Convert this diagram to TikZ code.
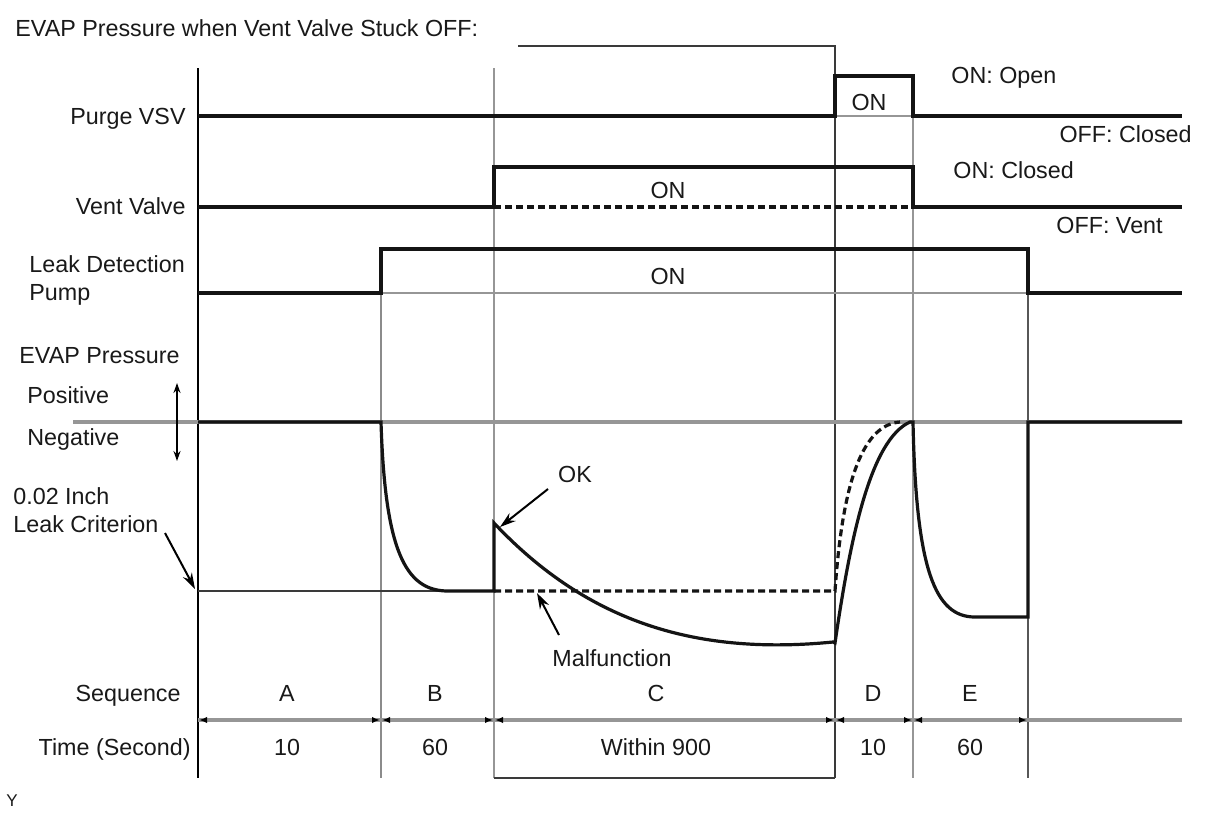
\documentclass[tikz,border=0pt]{standalone}
\usepackage{fontspec}
\setmainfont{Liberation Sans}
\usetikzlibrary{arrows.meta}
\definecolor{gline}{HTML}{969696}
\definecolor{dline}{HTML}{3A3A3A}
\begin{document}
\begin{tikzpicture}[x=0.5pt,y=-0.5pt,
  every node/.style={inner sep=0pt,font=\fontsize{11.65}{14}\selectfont,text=black!90},
  sig/.style={line width=1.6pt,black!92,line join=miter},
  sigdash/.style={line width=1.6pt,black!92,dash pattern=on 3.5pt off 2pt},
  gridg/.style={line width=1.1pt,gline},
  gridd/.style={line width=1.1pt,dline},
  pointer/.style={line width=1pt,black,-{Stealth[length=8pt,width=5pt]}},
  seg/.style={line width=1.8pt,gline,{Latex[length=4pt,width=3.2pt,color=black]}-{Latex[length=4pt,width=3.2pt,color=black]}}]
\useasboundingbox (0,0) rectangle (1208,814);
\fill[white] (0,0) rectangle (1208,814);

% ---- grid / frame lines
\draw[line width=1.2pt,black] (198,68) -- (198,778);
\draw[gridg,gline!110] (381,249) -- (381,778);
\draw[gridg] (494,68) -- (494,778);
\draw[gridd] (518,46) -- (835,46) -- (835,778);
\draw[gridd] (494,778) -- (835,778);
\draw[gridg] (913,76) -- (913,778);
\draw[gridd,dline!85] (1028,249) -- (1028,778);

% baselines
\draw[gridg] (835,116) -- (913,116);
\draw[gridg] (381,293) -- (1028,293);
\draw[line width=1.8pt,gline] (73,422) -- (1182,422);
\draw[line width=1.8pt,gline] (198,720) -- (1182,720);
\draw[line width=0.9pt,dline] (198,591) -- (494,591);

% time segments
\draw[seg] (199,720) -- (380,720);
\draw[seg] (382,720) -- (493,720);
\draw[seg] (495,720) -- (834,720);
\draw[seg] (836,720) -- (912,720);
\draw[seg] (914,720) -- (1027,720);

% ---- signals
\draw[sig] (198,116) -- (835,116) -- (835,76) -- (913,76) -- (913,116) -- (1182,116);
\draw[sig] (198,207) -- (494,207) -- (494,167) -- (913,167) -- (913,207) -- (1182,207);
\draw[sigdash] (494,207) -- (913,207);
\draw[sig] (198,293) -- (381,293) -- (381,249) -- (1028,249) -- (1028,293) -- (1182,293);

% EVAP pressure
\draw[sig] (198,422) -- (381,422)
  .. controls (385,550) and (405,591) .. (448,591) -- (494,591) -- (494,523)
  .. controls (590,625) and (700,655) .. (833,642)
  -- (835,643)
  .. controls (850,540) and (870,440) .. (910,422) -- (913,422)
  .. controls (916,570) and (935,617) .. (975,617) -- (1028,617) -- (1028,422) -- (1182,422);
\draw[sigdash] (494,591) -- (835,591)
  .. controls (842,490) and (860,425) .. (900,422);

% ---- pointers
\draw[line width=0.9pt,black,{Stealth[length=5pt,width=3.5pt]}-{Stealth[length=5pt,width=3.5pt]}] (177,383) -- (177,461);
\draw[pointer] (165,533) -- (195,589);
\draw[pointer] (548,489) -- (500,527);
\draw[pointer] (559,635) -- (537,593);

% ---- texts
\node[anchor=base west] (title) at (15,36) {EVAP Pressure when Vent Valve Stuck OFF:};
\node[anchor=base east] (purge) at (186,124) {Purge VSV};
\node[anchor=base east] (vent) at (186,214) {Vent Valve};
\node[anchor=base west] (leak1) at (29,272) {Leak Detection};
\node[anchor=base west] (leak2) at (29,300) {Pump};
\node[anchor=base west] (evap) at (19,363) {EVAP Pressure};
\node[anchor=base west] (pos) at (27,403) {Positive};
\node[anchor=base west] (neg) at (27,445) {Negative};
\node[anchor=base west] (inch) at (13,504) {0.02 Inch};
\node[anchor=base west] (crit) at (13,532) {Leak Criterion};
\node[anchor=base] (ok) at (575,482) {OK};
\node[anchor=base] (malf) at (612,666) {Malfunction};
\node[anchor=base east] (seq) at (181,701) {Sequence};
\node[anchor=base east] (time) at (191,755) {Time (Second)};

\node[anchor=base] (onp) at (869,110) {ON};
\node[anchor=base] (onv) at (668,198) {ON};
\node[anchor=base] (onl) at (668,284) {ON};

\node[anchor=base west] (onopen) at (951,83) {ON: Open};
\node[anchor=base east] (offclosed) at (1192,142) {OFF: Closed};
\node[anchor=base west] (onclosed) at (953,178) {ON: Closed};
\node[anchor=base east] (offvent) at (1163,233) {OFF: Vent};

\node[anchor=base] (sa) at (287,701) {A};
\node[anchor=base] (sb) at (435,701) {B};
\node[anchor=base] (sc) at (656,701) {C};
\node[anchor=base] (sd) at (873,701) {D};
\node[anchor=base] (se) at (970,701) {E};
\node[anchor=base] (ta) at (287,755) {10};
\node[anchor=base] (tb) at (435,755) {60};
\node[anchor=base] (tc) at (656,755) {Within 900};
\node[anchor=base] (td) at (873,755) {10};
\node[anchor=base] (te) at (970,755) {60};

\node[anchor=base, font=\fontsize{8.5}{10}\selectfont] (y) at (12,806) {Y};
\end{tikzpicture}
\end{document}
